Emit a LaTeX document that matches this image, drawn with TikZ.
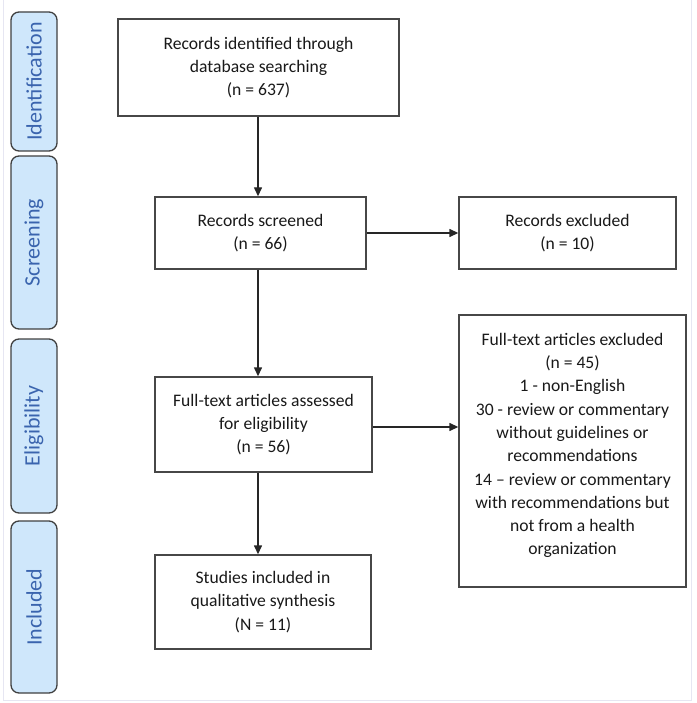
\documentclass[tikz,border=0pt]{standalone}
\usepackage{fontspec}
\setmainfont{Carlito}
\usetikzlibrary{arrows.meta}
\definecolor{sidefill}{HTML}{CFE7FB}
\definecolor{sidetext}{HTML}{3A64AE}
\definecolor{boxline}{HTML}{474747}
\definecolor{frameline}{HTML}{E6E6F2}
\tikzset{
  flowbox/.style={draw=boxline, line width=1.4pt, fill=white, align=center, inner sep=0pt,
    font=\fontsize{17.6}{23.3}\selectfont, text=black!90},
  flowtext/.style={align=center, inner sep=0pt,
    font=\fontsize{17.6}{23.3}\selectfont, text=black!90},
  sidebar/.style={draw=black!75, line width=1.3pt, fill=sidefill, rounded corners=8pt,
    inner sep=0pt, minimum width=46pt},
  sidelabel/.style={rotate=90, text=sidetext, font=\fontsize{22}{24}\selectfont},
  arr/.style={draw=black!85, line width=1.4pt, -{Triangle[length=9pt,width=8pt]}}
}
\begin{document}
\begin{tikzpicture}[x=1pt,y=-1pt]
\useasboundingbox (0,0) rectangle (696,703);
\draw[frameline, line width=1pt] (3,0) -- (3,700.5) -- (691,700.5) -- (691,0);
% side bars
\node[sidebar, minimum height=139pt] (sid) at (34,81.5) {};
\node[sidelabel] (lid) at (sid.center) {Identification};
\node[sidebar, minimum height=173pt] (ssc) at (34,242.5) {};
\node[sidelabel] (lsc) at (ssc.center) {Screening};
\node[sidebar, minimum height=174pt] (sel) at (34,426) {};
\node[sidelabel] (lel) at (sel.center) {Eligibility};
\node[sidebar, minimum height=172pt] (sin) at (34,607) {};
\node[sidelabel] (lin) at (sin.center) {Included};
% boxes
\node[flowbox, minimum width=281pt, minimum height=97pt] (rid) at (258.5,67.5)
  {Records identified through\\database searching\\(n = 637)};
\node[flowbox, minimum width=211pt, minimum height=72pt] (rsc) at (260.5,233)
  {Records screened\\(n = 66)};
\node[flowbox, minimum width=217pt, minimum height=72pt] (rex) at (567.5,233)
  {Records excluded\\(n = 10)};
\node[flowbox, minimum width=217pt, minimum height=95pt] (fta) at (263.5,424.5)
  {Full-text articles assessed\\for eligibility\\(n = 56)};
\node[flowbox, minimum width=227pt, minimum height=272pt] (fte) at (572.5,451) {};
\node[flowtext] (ftetext) at (572.5,445.5)
  {Full-text articles excluded\\(n = 45)\\1 - non-English\\30 - review or commentary\\without guidelines or\\recommendations\\14 -- review or commentary\\with recommendations but\\not from a health\\organization};
\node[flowbox, minimum width=216pt, minimum height=94pt] (sti) at (263,602)
  {Studies included in\\qualitative synthesis\\(N = 11)};
% connectors
\coordinate (vx) at (258,0);
\draw[arr] (rid.south -| vx) -- (rsc.north -| vx);
\draw[arr] (rsc.south -| vx) -- (fta.north -| vx);
\draw[arr] (fta.south -| vx) -- (sti.north -| vx);
\draw[arr] (rsc.east) -- (rex.west);
\draw[arr] ([yshift=-2.5pt]fta.east) -- ([yshift=-2.5pt]fta.east -| fte.west);
\end{tikzpicture}
\end{document}
